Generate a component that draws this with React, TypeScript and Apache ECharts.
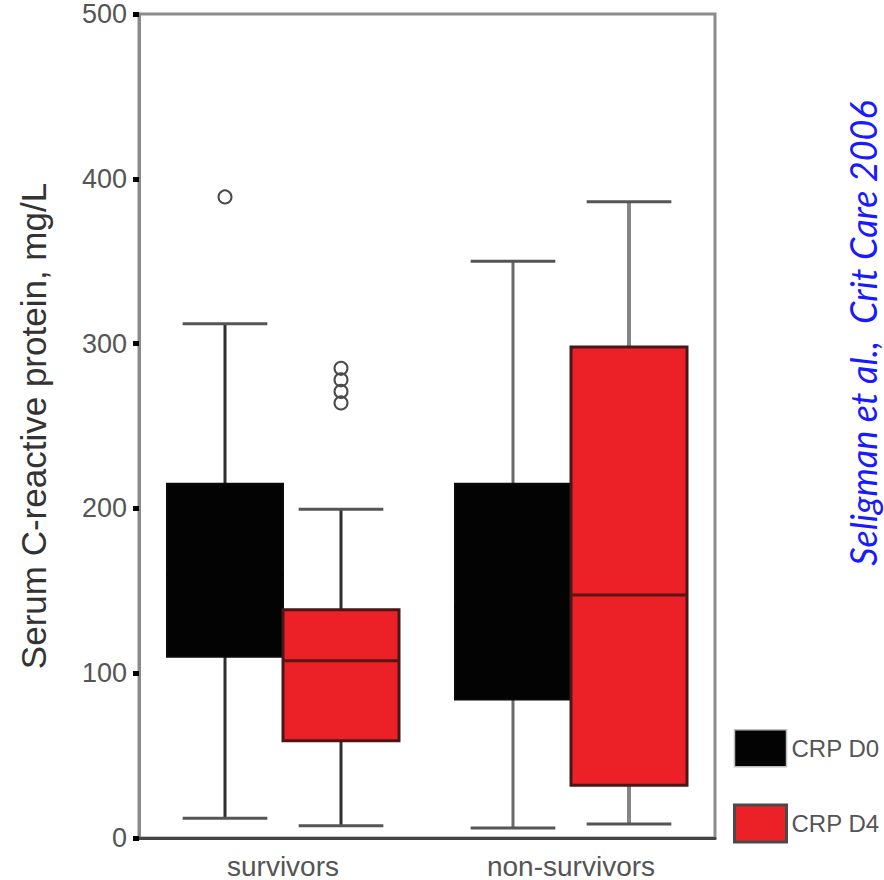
import React, { useEffect, useRef } from "react";
import * as echarts from "echarts";

// ---- data ----
const categories = ["survivors", "non-survivors"];
const legendNames = ["CRP D0", "CRP D4"];
// [min, Q1, median, Q3, max] per category (survivors, non-survivors)
const crpD0 = [
  [12, 110, 160, 215, 312],
  [6, 84, 140, 215, 350],
];
const crpD4 = [
  [7.5, 59, 107.5, 138.5, 199.5],
  [8.5, 32, 147.5, 298, 386],
];
// outliers: [categoryIndex, value]
const outliersD0 = [[0, 389]];
const outliersD4 = [
  [0, 264],
  [0, 271],
  [0, 278],
  [0, 285],
];
const yMin = 0;
const yMax = 500;
const yStep = 100;
const yAxisTitle = "Serum C-reactive protein, mg/L";
const sourceNote = "Seligman et al.,  Crit Care 2006";

const BOX_OFFSET = 0.2014; // fraction of band width
const BOX_HALF = 0.2014;
const CAP_HALF = 0.147;

function boxRenderer(offset: number, fill: string, stroke: string, strokeW: number, medianColor: string) {
  return (params: any, api: any) => {
    const cat = api.value(0);
    const band = api.size([1, 0])[0];
    const cx = api.coord([cat, 0])[0] + offset * band;
    const y = (v: number) => api.coord([cat, v])[1];
    const yLo = y(api.value(1));
    const yQ1 = y(api.value(2));
    const yMed = y(api.value(3));
    const yQ3 = y(api.value(4));
    const yHi = y(api.value(5));
    const hb = BOX_HALF * band;
    const hc = CAP_HALF * band;
    const stemColor = cat === 0 ? "#2e2e2e" : offset < 0 ? "#6a6a6a" : "#858585";
    const stemW = cat === 0 ? 3 : offset < 0 ? 3 : 4;
    const capStyle = { stroke: "#555", lineWidth: 3 };
    return {
      type: "group",
      children: [
        { type: "line", shape: { x1: cx, y1: yLo, x2: cx, y2: yQ1 }, style: { stroke: stemColor, lineWidth: stemW } },
        { type: "line", shape: { x1: cx, y1: yQ3, x2: cx, y2: yHi }, style: { stroke: stemColor, lineWidth: stemW } },
        { type: "line", shape: { x1: cx - hc, y1: yLo, x2: cx + hc, y2: yLo }, style: capStyle },
        { type: "line", shape: { x1: cx - hc, y1: yHi, x2: cx + hc, y2: yHi }, style: capStyle },
        {
          type: "rect",
          shape: { x: cx - hb, y: yQ3, width: 2 * hb, height: yQ1 - yQ3 },
          style: { fill, stroke, lineWidth: strokeW },
        },
        {
          type: "line",
          shape: { x1: cx - hb, y1: yMed, x2: cx + hb, y2: yMed },
          style: { stroke: medianColor, lineWidth: 3 },
        },
      ],
    };
  };
}

function outlierRenderer(offset: number) {
  return (params: any, api: any) => {
    const cat = api.value(0);
    const band = api.size([1, 0])[0];
    const p = api.coord([cat, api.value(1)]);
    return {
      type: "circle",
      shape: { cx: p[0] + offset * band, cy: p[1], r: 6.5 },
      style: { fill: "rgba(255,255,255,0)", stroke: "#4a4a4a", lineWidth: 2 },
    };
  };
}

export default function App() {
  const ref = useRef<HTMLDivElement>(null);
  useEffect(() => {
    document.body.style.margin = "0";
    const chart = echarts.init(ref.current!, null, { renderer: "svg" });
    const font = "Liberation Sans, Arial, sans-serif";
    const option: any = {
      animation: false,
      backgroundColor: "#ffffff",
      grid: {
        left: 139,
        right: 169,
        top: 14,
        bottom: 42,
        show: true,
        borderColor: "#8c8c8c",
        borderWidth: 3,
      },
      legend: {
        orient: "vertical",
        left: 733,
        top: 729,
        padding: 0,
        itemWidth: 52,
        itemHeight: 37,
        itemGap: 36,
        selectedMode: false,
        textStyle: { fontSize: 24, color: "#555", fontFamily: font },
        data: [
          { name: legendNames[0], icon: "rect", itemStyle: { color: "#030303", borderColor: "#bdbdbd", borderWidth: 1.5 } },
          { name: legendNames[1], icon: "rect", itemStyle: { color: "#ec2027", borderColor: "#4a4a4a", borderWidth: 3 } },
        ],
      },
      xAxis: {
        type: "category",
        data: categories,
        boundaryGap: true,
        axisLine: { lineStyle: { color: "#444", width: 3 } },
        axisTick: { alignWithLabel: true, length: 7, lineStyle: { color: "#000", width: 6 } },
        axisLabel: { fontSize: 28, color: "#555", margin: 14, fontFamily: font },
        splitLine: { show: false },
      },
      yAxis: {
        type: "value",
        min: yMin,
        max: yMax,
        interval: yStep,
        splitLine: { show: false },
        axisLine: { show: true, lineStyle: { color: "#8a8a8a", width: 3 } },
        axisTick: { show: true, length: 6, lineStyle: { color: "#000", width: 5 } },
        axisLabel: { fontSize: 27, color: "#555", margin: 12, fontFamily: font },
        name: yAxisTitle,
        nameLocation: "middle",
        nameGap: 88,
        nameTextStyle: { fontSize: 35, color: "#333", fontFamily: font },
      },
      graphic: [
        {
          type: "text",
          x: 863,
          y: 333,
          rotation: Math.PI / 2,
          style: {
            text: sourceNote,
            fontSize: 36,
            fontStyle: "italic",
            fontFamily: "Lato, sans-serif",
            fill: "#1a1aff",
            align: "center",
            verticalAlign: "middle",
          },
        },
      ],
      series: [
        {
          name: legendNames[0],
          type: "custom",
          itemStyle: { color: "#030303" },
          renderItem: boxRenderer(-BOX_OFFSET, "#030303", "#0a0a0a", 2, "#030303"),
          encode: { x: 0, y: [1, 2, 3, 4, 5] },
          data: crpD0.map((d, i) => [i, ...d]),
          z: 2,
        },
        {
          name: legendNames[1],
          type: "custom",
          itemStyle: { color: "#ec2027" },
          renderItem: boxRenderer(BOX_OFFSET, "#ec2027", "#4a1717", 3, "#5a1515"),
          encode: { x: 0, y: [1, 2, 3, 4, 5] },
          data: crpD4.map((d, i) => [i, ...d]),
          z: 2,
        },
        {
          name: "D0 outliers",
          type: "custom",
          renderItem: outlierRenderer(-BOX_OFFSET),
          encode: { x: 0, y: 1 },
          data: outliersD0,
          z: 3,
        },
        {
          name: "D4 outliers",
          type: "custom",
          renderItem: outlierRenderer(BOX_OFFSET),
          encode: { x: 0, y: 1 },
          data: outliersD4,
          z: 3,
        },
      ],
    };
    chart.setOption(option);
    return () => chart.dispose();
  }, []);
  return <div ref={ref} style={{ width: 884, height: 880 }} />;
}
